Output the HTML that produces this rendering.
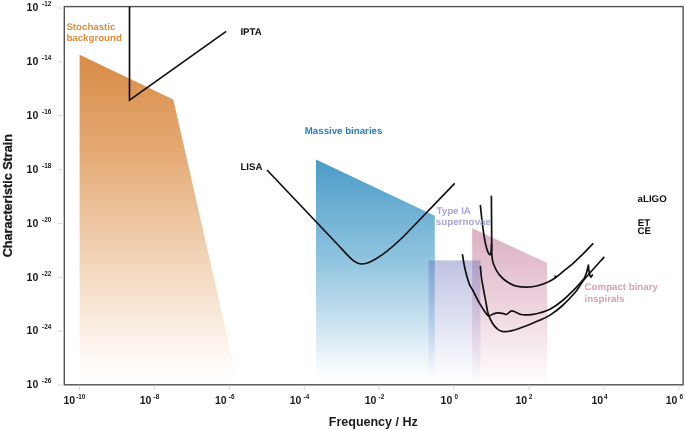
<!DOCTYPE html>
<html><head><meta charset="utf-8"><title>Gravitational wave sensitivity</title>
<style>
html,body{margin:0;padding:0;background:#fff;}
body{width:685px;height:430px;overflow:hidden;}
svg{display:block;font-family:"Liberation Sans",Arial,sans-serif;font-weight:bold;}
.t{font-size:10.5px;fill:#1a1a1a;}
.s{font-size:6.4px;fill:#1a1a1a;}
.l{font-size:9.7px;text-rendering:geometricPrecision;}
.c{fill:none;stroke:#111;stroke-width:1.7;stroke-linecap:round;stroke-linejoin:round;}
</style></head><body>
<svg width="685" height="430" viewBox="0 0 685 430">
<defs>
<linearGradient id="gO" gradientUnits="userSpaceOnUse" x1="0" y1="55" x2="0" y2="384">
<stop offset="0" stop-color="#d88c46"/><stop offset="0.3" stop-color="#e5aa75"/><stop offset="0.62" stop-color="#f2d4b8"/><stop offset="0.93" stop-color="#fefaf6"/><stop offset="1" stop-color="#ffffff"/>
</linearGradient>
<linearGradient id="gB" gradientUnits="userSpaceOnUse" x1="0" y1="159" x2="0" y2="384">
<stop offset="0" stop-color="#4a9bc8"/><stop offset="0.45" stop-color="#90c4df"/><stop offset="0.75" stop-color="#cfe5f1"/><stop offset="0.95" stop-color="#fbfdfe"/><stop offset="1" stop-color="#ffffff"/>
</linearGradient>
<linearGradient id="gP" gradientUnits="userSpaceOnUse" x1="0" y1="228" x2="0" y2="384">
<stop offset="0" stop-color="#dbb0c3"/><stop offset="0.5" stop-color="#edd4df"/><stop offset="0.9" stop-color="#fcf6f8"/><stop offset="1" stop-color="#ffffff"/>
</linearGradient>
<linearGradient id="gV" gradientUnits="userSpaceOnUse" x1="0" y1="260" x2="0" y2="384">
<stop offset="0" stop-color="#686fb6" stop-opacity="0.42"/><stop offset="0.5" stop-color="#6f7cc4" stop-opacity="0.22"/><stop offset="0.95" stop-color="#8090d0" stop-opacity="0.02"/><stop offset="1" stop-color="#8090d0" stop-opacity="0"/>
</linearGradient>
</defs>
<rect width="685" height="430" fill="#ffffff"/>

<polygon points="79.6,54.8 173.3,99.5 238,384 79.6,384" fill="url(#gO)"/>
<polygon points="316,159.6 434.8,215.8 434.8,384 316,384" fill="url(#gB)"/>
<polygon points="472.2,228.3 547,262.8 547,384 472.2,384" fill="url(#gP)"/>
<rect x="428.5" y="260.4" width="52" height="123.6" fill="url(#gV)"/>
<rect x="64.3" y="6.6" width="618.8" height="378.2" fill="none" stroke="#525252" stroke-width="1.4"/>
<line x1="57.5" x2="63.8" y1="8.0" y2="8.0" stroke="#dadada" stroke-width="1"/>
<line x1="57.5" x2="63.8" y1="61.9" y2="61.9" stroke="#dadada" stroke-width="1"/>
<line x1="57.5" x2="63.8" y1="115.7" y2="115.7" stroke="#dadada" stroke-width="1"/>
<line x1="57.5" x2="63.8" y1="169.6" y2="169.6" stroke="#dadada" stroke-width="1"/>
<line x1="57.5" x2="63.8" y1="223.4" y2="223.4" stroke="#dadada" stroke-width="1"/>
<line x1="57.5" x2="63.8" y1="277.3" y2="277.3" stroke="#dadada" stroke-width="1"/>
<line x1="57.5" x2="63.8" y1="331.2" y2="331.2" stroke="#dadada" stroke-width="1"/>
<line x1="57.5" x2="63.8" y1="385.0" y2="385.0" stroke="#dadada" stroke-width="1"/>
<line y1="385.4" y2="390.5" x1="79.5" x2="79.5" stroke="#dadada" stroke-width="1"/>
<line y1="385.4" y2="390.5" x1="154.4" x2="154.4" stroke="#dadada" stroke-width="1"/>
<line y1="385.4" y2="390.5" x1="229.3" x2="229.3" stroke="#dadada" stroke-width="1"/>
<line y1="385.4" y2="390.5" x1="304.3" x2="304.3" stroke="#dadada" stroke-width="1"/>
<line y1="385.4" y2="390.5" x1="379.2" x2="379.2" stroke="#dadada" stroke-width="1"/>
<line y1="385.4" y2="390.5" x1="454.1" x2="454.1" stroke="#dadada" stroke-width="1"/>
<line y1="385.4" y2="390.5" x1="529.0" x2="529.0" stroke="#dadada" stroke-width="1"/>
<line y1="385.4" y2="390.5" x1="603.9" x2="603.9" stroke="#dadada" stroke-width="1"/>
<line y1="385.4" y2="390.5" x1="678.9" x2="678.9" stroke="#dadada" stroke-width="1"/>
<text class="t" x="26.6" y="11.2">10</text><text class="s" x="42" y="6.2">-12</text>
<text class="t" x="26.6" y="65.1">10</text><text class="s" x="42" y="60.1">-14</text>
<text class="t" x="26.6" y="118.9">10</text><text class="s" x="42" y="113.9">-16</text>
<text class="t" x="26.6" y="172.8">10</text><text class="s" x="42" y="167.8">-18</text>
<text class="t" x="26.6" y="226.6">10</text><text class="s" x="42" y="221.6">-20</text>
<text class="t" x="26.6" y="280.5">10</text><text class="s" x="42" y="275.5">-22</text>
<text class="t" x="26.6" y="334.4">10</text><text class="s" x="42" y="329.4">-24</text>
<text class="t" x="26.6" y="388.2">10</text><text class="s" x="42" y="383.2">-26</text>
<text class="t" x="63.5" y="404.1">10</text><text class="s" x="76.2" y="399.1">-10</text>
<text class="t" x="139.7" y="404.1">10</text><text class="s" x="153.6" y="399.1">-8</text>
<text class="t" x="215.0" y="404.1">10</text><text class="s" x="228.8" y="399.1">-6</text>
<text class="t" x="289.7" y="404.1">10</text><text class="s" x="303.6" y="399.1">-4</text>
<text class="t" x="364.7" y="404.1">10</text><text class="s" x="378.6" y="399.1">-2</text>
<text class="t" x="440.6" y="404.1">10</text><text class="s" x="454.5" y="399.1">0</text>
<text class="t" x="515.5" y="404.1">10</text><text class="s" x="528.8" y="399.1">2</text>
<text class="t" x="591.4" y="404.1">10</text><text class="s" x="604.0" y="399.1">4</text>
<text class="t" x="665.7" y="404.1">10</text><text class="s" x="679.4" y="399.1">6</text>
<text x="328.8" y="426.1" font-size="12.5" fill="#1a1a1a">Frequency / Hz</text>
<text transform="translate(11.9,195.7) rotate(-90)" text-anchor="middle" font-size="12.6" fill="#1a1a1a" stroke="#1a1a1a" stroke-width="0.3">Characteristic Strain</text>
<path class="c" style="stroke-linejoin:miter;stroke-linecap:butt" d="M129.5,6.6 L129.5,100.2 L226.2,31.4"/>
<path class="c" d="M267.5,170.5 L340,247 C350,258 355,264 362,264 C372,264 390,250 405,235 L454.2,183.8"/>
<path class="c" d="M480.4,205.5 C482,222 484.2,240 486.6,248 C488,252.8 489.4,255.6 490.4,254.4 C491.2,253 491.4,249 491.5,244"/>
<path class="c" d="M491.4,196.3 L491.8,254.3 C492.2,260 492.8,262.5 493.8,264.8 C495.2,268.5 496.8,271.5 499,274.4 C501.5,277.5 504.5,280.3 507.8,282.3 C510.5,284 513.5,285.3 516.5,286.2 C520,287 523.5,287.3 527,287.2 C530.5,287.1 534,286.7 537.6,285.8 C541,285 544.5,283.7 548.1,282 C550.5,280.8 553,279.4 555.1,278 L555.2,276 L555.1,278 C558,276 561,273.5 563.8,270.9 C566.8,268.6 569.6,266.4 572.6,263.9 L583.1,253.9 L592.8,243.8"/>
<path class="c" d="M462.5,254.8 C462.8,256.7 463.6,262.4 464.4,266.0 C465.1,269.6 466.1,273.6 467.0,276.7 C467.9,279.8 468.7,282.5 469.7,284.8 C470.7,287.1 471.3,287.5 472.9,290.5 C474.5,293.5 477.2,299.3 479.3,302.9 C481.4,306.5 483.6,310.0 485.2,312.2 C486.8,314.4 487.3,315.6 488.7,315.9 C490.1,316.2 491.8,314.4 493.4,313.9 C494.9,313.4 496.4,312.9 498.0,312.8 C499.6,312.7 501.3,313.1 502.7,313.4 C504.1,313.7 505.3,314.5 506.2,314.5 C507.1,314.5 507.1,314.0 508.0,313.4 C508.9,312.8 510.2,311.0 511.5,310.8 C512.8,310.6 514.1,311.6 515.6,312.2 C517.1,312.8 518.5,313.9 520.2,314.3 C521.9,314.8 523.9,314.9 526.0,314.9 C528.1,314.9 530.8,314.6 533.1,314.3 C535.5,314.0 537.3,313.6 540.1,312.8 C542.9,312.0 546.4,311.3 550.0,309.3 C553.6,307.3 557.7,304.6 562.0,301.0 C566.3,297.4 572.1,291.6 575.9,287.8 C579.6,284.0 583.1,279.6 584.5,278.0 C586.3,274 587.6,269 588.4,265.2 C588.6,268 588.9,271.5 589.5,274 C590,276.3 590.5,277.2 591.1,277 C591.6,276.6 592,275.8 592.3,275"/>
<path class="c" d="M480.4,266.5 C480.6,268.4 481.0,274.1 481.5,278.0 C482.0,281.9 482.9,286.1 483.6,290.0 C484.3,293.9 485.1,297.8 485.8,301.7 C486.6,305.6 487.0,309.9 488.1,313.4 C489.2,316.9 490.7,320.2 492.2,322.7 C493.7,325.2 495.3,327.1 496.9,328.5 C498.4,329.9 500.1,330.7 501.5,331.2 C502.9,331.7 503.4,331.8 505.0,331.7 C506.6,331.6 508.6,331.4 510.9,330.9 C513.2,330.4 516.1,329.5 519.0,328.5 C521.9,327.5 524.9,326.4 528.4,325.0 C531.9,323.6 536.5,321.8 540.1,320.1 C543.7,318.5 546.4,317.5 550.0,315.1 C553.6,312.8 557.7,309.9 562.0,306.0 C566.3,302.1 572.2,295.9 575.9,291.5 C579.6,287.1 579.6,285.2 584.2,279.5 C588.9,273.8 600.5,261.1 603.8,257.4"/>
<text class="l" fill="#dc8f42" transform="translate(66.4,30.3)">Stochastic</text><text class="l" fill="#dc8f42" transform="translate(66.4,40.8)">background</text>
<text class="l" fill="#111" transform="translate(240.4,34.8)">IPTA</text>
<text class="l" fill="#111" transform="translate(240.4,169.7)">LISA</text>
<text class="l" fill="#2c7fb6" transform="translate(304.8,133.7)">Massive binaries</text>
<text class="l" fill="#a7a8d6" transform="translate(436.6,214.4)">Type IA</text><text class="l" fill="#a7a8d6" transform="translate(435.8,225.4)" style="font-size:9.85px">supernovae</text>
<text class="l" fill="#d4a3bb" transform="translate(584.6,290.3)">Compact binary</text><text class="l" fill="#d4a3bb" transform="translate(584.6,301.8)">inspirals</text>
<text class="l" fill="#111" transform="translate(637.6,202.1)">aLIGO</text><text class="l" fill="#111" transform="translate(637.8,226.0)">ET</text><text class="l" fill="#111" transform="translate(637.6,233.7)">CE</text>
</svg></body></html>
